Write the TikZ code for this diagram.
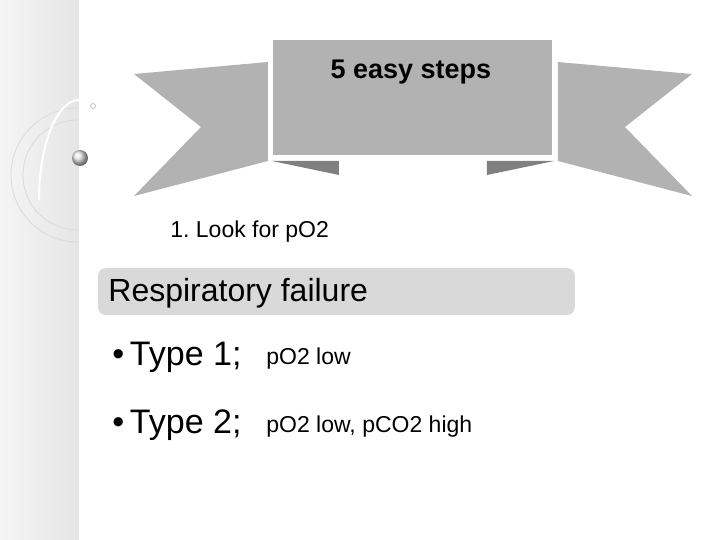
\documentclass[tikz,border=0pt]{standalone}
\usepackage{fontspec}
\setmainfont{Liberation Sans}
\frenchspacing
\begin{document}
\begin{tikzpicture}[x=0.5pt,y=-0.5pt]
    \tikzstyle{every node} = [inner sep=0pt]
    \tikzstyle{ribbon} = [fill=black!30]
    \tikzstyle{fold} = [fill=black!50]
    \tikzstyle{title} = [font=\fontsize{13.5}{15}\selectfont\bfseries]
    \tikzstyle{small} = [font=\fontsize{11.5}{13}\selectfont, anchor=west]
    \tikzstyle{big} = [font=\fontsize{16}{18}\selectfont, anchor=west]
    \tikzstyle{bullet} = [font=\fontsize{17}{19}\selectfont, anchor=west]
    \useasboundingbox (0,0) rectangle (720,540);
    % side strip
    \shade[left color=black!4, right color=black!10] (0,0) rectangle (79,540);
    \begin{scope}
        \clip (0,0) rectangle (79,540);
        \draw[black!15] (78,175) circle (55);
        \draw[black!15] (78,175) circle (67);
        \draw[black!12] (79,0) arc (0:-90:55 and 85);
        \draw[white, line width=1pt] (79,100) arc (270:180:40 and 100);
    \end{scope}
    \shade[ball color=black!10] (80,158) circle (8);
    \draw[black!25] (93,106) circle (2.5);
    % banner
    \fill[ribbon] (134,74) -- (268,62) -- (268,161) -- (134,196) -- (201,127) -- cycle;
    \fill[ribbon] (692,74) -- (558,62) -- (558,161) -- (692,196) -- (625,127) -- cycle;
    \fill[fold] (272,161) -- (339,161) -- (339,175) -- cycle;
    \fill[fold] (554,161) -- (487,161) -- (487,175) -- cycle;
    \draw[ribbon, draw=white, line width=1.5pt] (272,39) -- (554,39) -- (554,157) -- (272,157) -- cycle;
    \node[title] (banner) at (411,72) {5 easy steps};
    % content
    \node[small] (look) at (170,232) {1. Look for pO2};
    \fill[black!15, rounded corners=4pt] (98,268) rectangle (575,315);
    \node[big] (resp) at (108,293) {Respiratory failure};
    \node[bullet] (type1) at (112,357) {\textbullet\,Type 1;};
    \node[small] (low1) at (266,359) {pO2 low};
    \node[bullet] (type2) at (112,425) {\textbullet\,Type 2;};
    \node[small] (low2) at (266,427) {pO2 low, pCO2 high};
\end{tikzpicture}
\end{document}
